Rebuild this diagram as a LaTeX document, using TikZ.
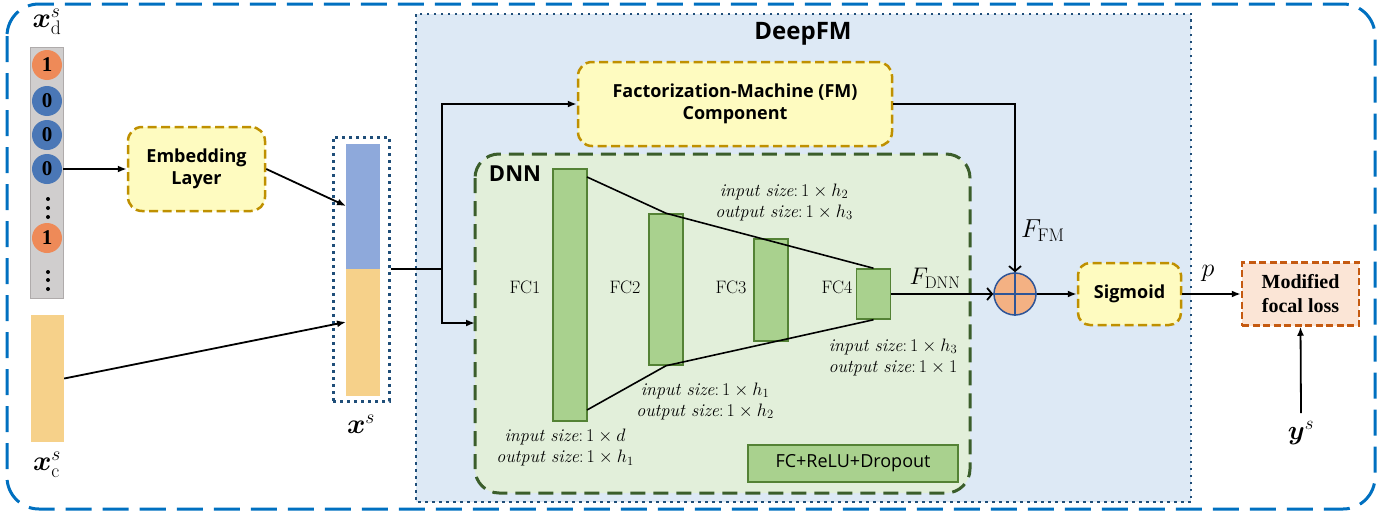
\RequirePackage{fix-cm}
\documentclass[tikz,border=0pt]{standalone}
\usepackage{fontspec}
\usepackage{amsmath,bm}
\newfontfamily\hei{Open Sans}
\newfontfamily\tnr{Liberation Serif}
\usetikzlibrary{arrows.meta,calc}
\definecolor{outerblue}{HTML}{0070C0}
\definecolor{dfill}{HTML}{DDE9F5}
\definecolor{ddraw}{HTML}{1F4E79}
\definecolor{yfill}{HTML}{FEFBC0}
\definecolor{ydraw}{HTML}{BF9000}
\definecolor{gfill}{HTML}{E2EFDA}
\definecolor{gdraw}{HTML}{3B5E2B}
\definecolor{fcfill}{HTML}{A9D18E}
\definecolor{fcdraw}{HTML}{548235}
\definecolor{sumfill}{HTML}{F4B183}
\definecolor{sumdraw}{HTML}{2F5597}
\definecolor{mfill}{HTML}{FBE5D6}
\definecolor{mdraw}{HTML}{C55A11}
\definecolor{colgray}{HTML}{D0CECE}
\definecolor{colgraydraw}{HTML}{AFABAB}
\definecolor{onec}{HTML}{EE8A58}
\definecolor{zeroc}{HTML}{4A77B6}
\definecolor{vblue}{HTML}{8EA9DB}
\definecolor{vyel}{HTML}{F6D18A}
\tikzset{
  ybox/.style={draw=ydraw, line width=2.5pt, dash pattern=on 9pt off 4.5pt, fill=yfill,
    rounded corners=14pt, font=\hei\bfseries\fontsize{18}{22}\selectfont, align=center, inner sep=0pt},
  fcbox/.style={draw=fcdraw, fill=fcfill, line width=1.5pt, inner sep=0pt, minimum width=34pt},
  lab/.style={font=\fontsize{18}{21}\selectfont, align=center, inner sep=0pt},
  arr/.style={line width=1.8pt, -{Latex[length=9pt,width=7pt]}},
  oarr/.style={line width=1.8pt, -{Straight Barb[length=5pt,width=12pt]}},
  plain/.style={line width=1.8pt},
  bit/.style={circle, inner sep=0pt, minimum size=30pt, font=\tnr\bfseries\fontsize{21}{21}\selectfont},
  mlab/.style={inner sep=0pt, font=\fontsize{26}{26}\selectfont},
}
\begin{document}
\begin{tikzpicture}[x=1pt,y=-1pt]
\useasboundingbox (0,0) rectangle (1396,514);
% outer frame
\draw[outerblue, line width=3pt, dash pattern=on 26pt off 11pt, rounded corners=32pt] (7,4) rectangle (1375,509);
% DeepFM frame
\draw[ddraw, fill=dfill, line width=2.5pt, dash pattern=on 2.5pt off 4.5pt] (416,14) rectangle (1191,502);
\node[font=\hei\bfseries\fontsize{24}{28}\selectfont, inner sep=0pt] (deepfm) at (803,34) {DeepFM};
% FM component
\node[ybox, minimum width=314pt, minimum height=84pt] (fm) at (735,104) {Factorization-Machine (FM)\\Component};
% DNN frame
\draw[gdraw, fill=gfill, line width=3pt, dash pattern=on 15pt off 8pt, rounded corners=24pt] (475,154) rectangle (970,493);
\node[font=\hei\bfseries\fontsize{22}{24}\selectfont, inner sep=0pt] (dnnlab) at (515,174) {DNN};
% FC layers
\node[fcbox, minimum height=252pt] (fc1) at (570,295) {};
\node[fcbox, minimum height=151pt] (fc2) at (666,289.5) {};
\node[fcbox, minimum height=102pt] (fc3) at (771,290) {};
\node[fcbox, minimum height=50pt] (fc4) at (873.5,294) {};
\node[lab] (l1) at (525,287) {FC1};
\node[lab] (l2) at (625,287) {FC2};
\node[lab] (l3) at (731,287) {FC3};
\node[lab] (l4) at (837,287) {FC4};
% funnel lines
\coordinate (t1) at (587,177);
\coordinate (b1) at (587,410);
\draw[line width=1.6pt] (t1) -- (fc2.north) -- (fc4.north);
\draw[line width=1.6pt] (b1) -- (fc2.south) -- (fc4.south);
% size labels
\node[lab] (s1) at (565,447.5) {\textit{input size}:\,$1\times d$\\\textit{output size}:\,$1\times h_{1}$};
\node[lab] (s2) at (705,401) {\textit{input size}:\,$1\times h_{1}$\\\textit{output size}:\,$1\times h_{2}$};
\node[lab] (s3) at (784,202) {\textit{input size}:\,$1\times h_{2}$\\\textit{output size}:\,$1\times h_{3}$};
\node[lab] (s4) at (893,357) {\textit{input size}:\,$1\times h_{3}$\\\textit{output size}:\,$1\times 1$};
% legend
\node[fcbox, minimum width=210pt, minimum height=37pt, font=\hei\fontsize{18}{20}\selectfont] (legend) at (853,463.5) {FC+ReLU+Dropout};
% sum
\node[circle, draw=sumdraw, fill=sumfill, line width=1.5pt, minimum size=42pt, inner sep=0pt] (sum) at (1015,294) {};
\draw[sumdraw, line width=1.5pt] (sum.north) -- (sum.south) (sum.west) -- (sum.east);
% sigmoid
\node[ybox, minimum width=103pt, minimum height=62pt, rounded corners=12pt] (sig) at (1129.5,294) {Sigmoid};
% modified focal loss
\node[draw=mdraw, fill=mfill, line width=2.5pt, dash pattern=on 7pt off 3.5pt, minimum width=117pt, minimum height=63pt,
  align=center, inner sep=0pt, font=\tnr\bfseries\fontsize{20}{24}\selectfont] (loss) at (1300.5,294) {Modified\\focal loss};
\node[mlab, font=\fontsize{27}{27}\selectfont] (ys) at (1301,433) {$\bm{y}^{s}$};
% input columns
\node[draw=colgraydraw, fill=colgray, line width=0.8pt, minimum width=33pt, minimum height=251pt, inner sep=0pt] (xd) at (46.5,172.5) {};
\node[bit, fill=onec] (c1) at (47,65) {1};
\node[bit, fill=zeroc] (c2) at (47,101) {0};
\node[bit, fill=zeroc] (c3) at (47,135) {0};
\node[bit, fill=zeroc] (c4) at (47,169) {0};
\node[bit, fill=onec] (c5) at (47,238) {1};
\foreach \yy in {199,208,217,272,280,289} \fill (48,\yy) circle (2pt);
\node[mlab, font=\fontsize{28}{28}\selectfont] (xdl) at (47,22) {$\bm{x}^{s}_{\mathrm{d}}$};
\node[fill=vyel, minimum width=33pt, minimum height=127pt, inner sep=0pt] (xc) at (47.5,378.5) {};
\node[mlab, font=\fontsize{28}{28}\selectfont] (xcl) at (47,465) {$\bm{x}^{s}_{\mathrm{c}}$};
% embedding
\node[ybox, minimum width=137pt, minimum height=84pt] (emb) at (196.5,169) {Embedding\\Layer};
% x^s vector
\node[draw=ddraw, line width=3pt, dash pattern=on 3pt off 4pt, minimum width=56pt, minimum height=264pt, inner sep=0pt] (xsbox) at (361,269) {};
\node[fill=vblue, minimum width=34pt, minimum height=125pt, inner sep=0pt] (xsb) at (363,206.5) {};
\node[fill=vyel, minimum width=34pt, minimum height=127pt, inner sep=0pt] (xsy) at (363,332.5) {};
\node[mlab, font=\fontsize{28}{28}\selectfont] (xsl) at (361,424) {$\bm{x}^{s}$};
% connectors
\coordinate (embin) at (c4.east -| xd.east);
\draw[arr] (embin) -- (emb.west |- embin);
\coordinate (xsin1) at (346,206);
\draw[arr] (emb.east) -- (xsin1);
\coordinate (xsin2) at (346,322);
\draw[arr] (xc.east) -- (xsin2);
\coordinate (split) at (442,269);
\draw[plain] (xsbox.east) -- (split);
\draw[arr] (split) |- (fm.west);
\coordinate (dnnin) at (475,323);
\draw[arr] (split) |- (dnnin);
\draw[plain] (fm.east) -| (1015,250);
\draw[oarr] (1015,249) -- (sum.north);
\node[mlab, anchor=west] (ffm) at (1021,231) {$F_{\mathrm{FM}}$};
\draw[oarr] (fc4.east) -- (sum.west);
\node[mlab, font=\fontsize{24}{24}\selectfont] (fdnn) at (935,278) {$F_{\mathrm{DNN}}$};
\draw[arr] (sum.east) -- (sig.west);
\draw[arr] (sig.east) -- (loss.west);
\node[mlab] (pl) at (1208,273) {$p$};
\draw[arr] (ys.north) ++(0,-8) coordinate (ysn) (ysn) -- (loss.south);
\end{tikzpicture}
\end{document}
